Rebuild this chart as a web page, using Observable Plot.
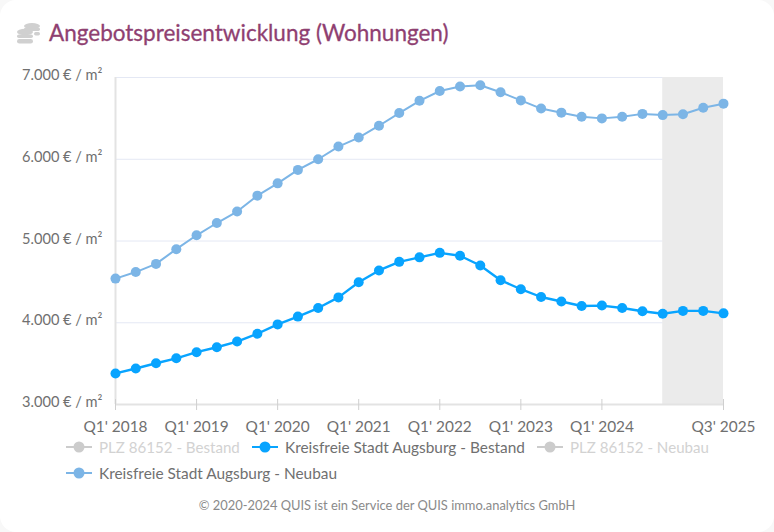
<!DOCTYPE html>
<html><head><meta charset="utf-8">
<script src="https://cdn.jsdelivr.net/npm/d3@7"></script>
<script src="https://cdn.jsdelivr.net/npm/@observablehq/plot@0.6"></script>
<style>
html,body{margin:0;padding:0;width:774px;height:532px;overflow:hidden;background:#f8f8f8;font-family:Lato,sans-serif}
#card{position:absolute;left:0;top:0;width:774px;height:532px;background:#fff;border-radius:16px}
#title{position:absolute;left:49px;top:19px;font-size:22.5px;line-height:28px;color:#8f3f71;white-space:nowrap;-webkit-text-stroke:0.3px #8f3f71}
#icon{position:absolute;left:16px;top:22px}
#chart{position:absolute;left:0;top:0}
.lg{position:absolute;font-size:15.4px;line-height:18px;white-space:nowrap;color:#707070}
.lg.off{color:#d2d2d2;font-size:15.1px}
.sw{position:absolute}
#foot{position:absolute;left:0;width:774px;top:497px;text-align:center;font-size:12.9px;line-height:16px;color:#8a8a8a;white-space:nowrap}
</style></head><body>
<div id="card">
<svg id="icon" width="26" height="24" viewBox="0 0 26 24"><g fill="#d0d0d0">
<ellipse cx="16" cy="4" rx="8" ry="3"/><rect x="8" y="5.5" width="16" height="3.5" rx="1.7"/><rect x="18" y="10" width="6" height="3.5" rx="1.7"/>
<ellipse cx="9" cy="10" rx="8" ry="3.3"/><rect x="1" y="12.4" width="16" height="3.6" rx="1.8"/><rect x="1" y="17" width="16" height="4.6" rx="2.3"/></g></svg>
<div id="title">Angebotspreisentwicklung (Wohnungen)</div>
<div id="chart"></div>
<div id="legend"></div>
<div id="foot">© 2020-2024 QUIS ist ein Service der QUIS immo.analytics GmbH</div>
</div>
<script>
const quarters = ["Q1' 2018","Q2' 2018","Q3' 2018","Q4' 2018","Q1' 2019","Q2' 2019","Q3' 2019","Q4' 2019","Q1' 2020","Q2' 2020","Q3' 2020","Q4' 2020","Q1' 2021","Q2' 2021","Q3' 2021","Q4' 2021","Q1' 2022","Q2' 2022","Q3' 2022","Q4' 2022","Q1' 2023","Q2' 2023","Q3' 2023","Q4' 2023","Q1' 2024","Q2' 2024","Q3' 2024","Q4' 2024","Q1' 2025","Q2' 2025","Q3' 2025"];
const tickLabels = ["Q1' 2018","Q1' 2019","Q1' 2020","Q1' 2021","Q1' 2022","Q1' 2023","Q1' 2024","Q3' 2025"];
const yTicks = [3000,4000,5000,6000,7000];
const bestand = [3380,3440,3505,3565,3640,3700,3770,3865,3980,4075,4180,4310,4495,4640,4745,4800,4855,4820,4700,4520,4410,4315,4260,4205,4210,4180,4140,4110,4145,4145,4115];
const neubau = [4540,4620,4720,4900,5070,5220,5360,5555,5705,5870,6000,6155,6265,6410,6565,6715,6835,6890,6905,6820,6720,6620,6570,6520,6500,6520,6555,6540,6550,6630,6680];
const bandFrom = "Q4' 2024", bandTo = "Q3' 2025";
const legendNames = ["PLZ 86152 - Bestand","Kreisfreie Stadt Augsburg - Bestand","PLZ 86152 - Neubau","Kreisfreie Stadt Augsburg - Neubau"];
const colorBestand = "#08a4ff", colorNeubau = "#7cb5e6", colorOff = "#cccccc";

const tidy = a => a.map((v,i)=>({i,v}));
const idx = q => quarters.indexOf(q);
const fmtY = d => d3.format(",")(d).replace(",",".") + " € / m²";
const tickIdx = tickLabels.map(idx);

const plot = Plot.plot({
  width:774, height:532, marginLeft:115, marginRight:51, marginTop:77, marginBottom:128,
  style:{background:"transparent",fontFamily:"Lato,sans-serif",overflow:"visible"},
  x:{type:"linear",domain:[0,quarters.length-1]},
  y:{type:"linear",domain:[3000,7000]},
  marks:[
    Plot.ruleY(yTicks.slice(1),{stroke:"#e4e8f4",strokeWidth:1}),
    Plot.rect([{x1:idx(bandFrom),x2:idx(bandTo),y1:3000,y2:7000}],{x1:"x1",x2:"x2",y1:"y1",y2:"y2",fill:"#ebebeb"}),
    Plot.ruleX([0],{stroke:"#e3e3e3",strokeWidth:2}),
    Plot.ruleY([3000],{stroke:"#e3e3e3",strokeWidth:2}),
    Plot.axisX(tickIdx,{tickFormat:i=>quarters[i],tickSize:6,tickPadding:11,stroke:"#cfcfcf",fill:"#707070",fontSize:15.4,label:null}),
    Plot.ruleX(tickIdx,{y1:3000,y2:3061,stroke:"#cfcfcf",strokeWidth:1}),
    Plot.axisY(yTicks,{tickFormat:fmtY,tickSize:0,tickPadding:13,dy:-2,fill:"#707070",fontSize:14.6,label:null}),
    Plot.line(tidy(neubau),{x:"i",y:"v",stroke:colorNeubau,strokeWidth:2}),
    Plot.dot(tidy(neubau),{x:"i",y:"v",fill:colorNeubau,r:5}),
    Plot.line(tidy(bestand),{x:"i",y:"v",stroke:colorBestand,strokeWidth:2.4}),
    Plot.dot(tidy(bestand),{x:"i",y:"v",fill:colorBestand,r:5})
  ]
});
document.getElementById("chart").append(plot);

const lgPos = [[66,447,0],[252,447,1],[537,447,0],[66,473,2]];
const lg = document.getElementById("legend");
legendNames.forEach((n,i)=>{
  const [x,y,s]=lgPos[i];
  const c = s===0?colorOff:(s===1?colorBestand:colorNeubau);
  const sw=document.createElementNS("http://www.w3.org/2000/svg","svg");
  sw.setAttribute("class","sw");sw.setAttribute("width",28);sw.setAttribute("height",12);
  sw.style.left=x+"px";sw.style.top=(y-6)+"px";
  sw.innerHTML=`<line x1="0" x2="26" y1="6" y2="6" stroke="${c}" stroke-width="2"/><circle cx="13" cy="6" r="5.5" fill="${c}"/>`;
  lg.append(sw);
  const t=document.createElement("div");
  t.className="lg"+(s===0?" off":"");t.textContent=n;
  t.style.left=(x+33)+"px";t.style.top=(y-9)+"px";
  lg.append(t);
});
</script>
</body></html>
